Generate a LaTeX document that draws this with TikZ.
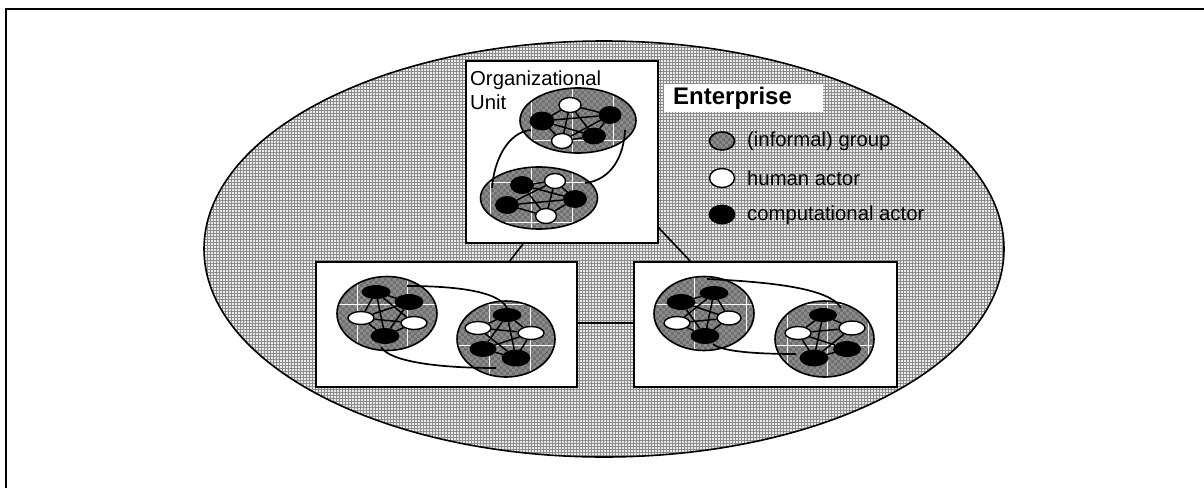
\documentclass[tikz,border=0pt]{standalone}
\usepackage{fontspec}
\setmainfont{Liberation Sans}
\usetikzlibrary{shapes.geometric}
\tikzset{
  x=1pt,y=-1pt,
  grp/.style={draw=black,line width=1.6pt},
  hum/.style={ellipse,draw=black,fill=white,line width=1.4pt,inner sep=0pt},
  comp/.style={ellipse,draw=black,fill=black,line width=0.8pt,inner sep=0pt},
  unitbox/.style={draw=black,fill=white,line width=2pt,inner sep=0pt},
  link/.style={draw=black,line width=1.5pt},
  wire/.style={draw=black,line width=1.7pt},
  gridw/.style={draw=white,line width=0.9pt},
  lab/.style={font=\fontsize{20.3pt}{24pt}\selectfont,anchor=west,inner sep=0pt,align=left},
}
% group background: centre x,y radii rx ry
\newcommand{\grpbg}[4]{%
  \begin{scope}
    \clip (#1,#2) ellipse [x radius=#3,y radius=#4];
    \fill[black!56] (#1-#3,#2-#4) rectangle (#1+#3,#2+#4);
    \foreach \ii in {-10,...,10}{
      \foreach \jj in {-7,...,7}{
        \fill[black!46] (#1+\ii*6,#2+\jj*6) rectangle ++(3,3);
        \fill[black!46] (#1+\ii*6+3,#2+\jj*6+3) rectangle ++(3,3);
      }
    }
  \end{scope}}
\newcommand{\grpline}[4]{\draw[grp] (#1,#2) ellipse [x radius=#3,y radius=#4];}
\begin{document}
\begin{tikzpicture}
\useasboundingbox (0,0) rectangle (1204,488);
\fill[white] (0,0) rectangle (1204,488);
\coordinate (fl) at (6,488);
\coordinate (ftl) at (6,9);
\coordinate (ftr) at (1204,9);
\draw[line width=2pt] (fl) -- (ftl) -- (ftr);
% enterprise ellipse with screen texture
\begin{scope}
  \clip (604,249) ellipse [x radius=400,y radius=208];
  \fill[black!8] (200,40) rectangle (1008,460);
  \foreach \xx in {204,207,...,1005}{\draw[black!45,line width=1pt] (\xx,40) -- (\xx,460);}
  \foreach \yy in {41,44,...,458}{\draw[black!45,line width=1pt] (200,\yy) -- (1008,\yy);}
\end{scope}
\node[draw=black,line width=1.6pt,ellipse,minimum width=800pt,minimum height=416pt,inner sep=0pt] (ent) at (604,249) {};
% connectors between units
\coordinate (oubl) at (523,244);
\coordinate (oubr) at (658,227);
\coordinate (lt) at (509,262);
\coordinate (rt) at (691,262);
\coordinate (lr) at (577,323);
\coordinate (rl) at (634,323);
\draw[line width=1.6pt] (oubl) -- (lt);
\draw[line width=1.6pt] (oubr) -- (rt);
\draw[line width=1.6pt] (lr) -- (rl);
% unit boxes
\node[unitbox,minimum width=192pt,minimum height=182pt] (ou) at (562,152) {};
\node[unitbox,minimum width=261pt,minimum height=125pt] (ul) at (446.5,324.5) {};
\node[unitbox,minimum width=263pt,minimum height=125pt] (ur) at (765.5,324.5) {};
% enterprise label
\node[fill=white,minimum width=159pt,minimum height=28pt,inner sep=0pt] (entbg) at (743.5,98) {};
\node[lab,font=\fontsize{24pt}{26pt}\selectfont\bfseries] (entl) at (673,98) {Enterprise};
\node[lab] (oul) at (470,90) {Organizational\\Unit};
% legend
\node[lab] (lg) at (747,141.5) {(informal) group};
\node[lab] (lh) at (747,178) {human actor};
\node[lab] (lc) at (747,215) {computational actor};
\grpbg{722}{141}{12.5}{9}
\grpline{722}{141}{12.5}{9}
\node[hum,minimum width=25pt,minimum height=19pt] (k2) at (722,178) {};
\node[comp,minimum width=26pt,minimum height=19pt] (k3) at (722,214.5) {};
% ---------- group A (top of OU)
\grpbg{578}{120.5}{58}{32.5}
\begin{scope}
\clip (578,120.5) ellipse [x radius=58,y radius=32.5];
\foreach \xx in {531,572,613}{\draw[gridw] (\xx,88) -- (\xx,153);}
\draw[gridw] (520,140) -- (636,140);
\end{scope}
\grpline{578}{120.5}{58}{32.5}
\node[comp,minimum width=24pt,minimum height=18pt] (a1) at (542,121) {};
\node[hum,minimum width=22pt,minimum height=15pt] (a2) at (570,105) {};
\node[comp,minimum width=22pt,minimum height=17pt] (a3) at (610,115) {};
\node[comp,minimum width=23pt,minimum height=16pt] (a4) at (594,136) {};
\node[hum,minimum width=21pt,minimum height=15pt] (a5) at (562,141) {};
\foreach \p/\q in {a1/a2,a1/a3,a1/a4,a1/a5,a2/a3,a2/a4,a2/a5,a3/a4,a3/a5,a4/a5}{\draw[link] (\p)--(\q);}
% ---------- group B
\grpbg{539}{198}{58.5}{31}
\begin{scope}
\clip (539,198) ellipse [x radius=58.5,y radius=31];
\foreach \xx in {490,531,572}{\draw[gridw] (\xx,167) -- (\xx,229);}
\draw[gridw] (480,182) -- (598,182);
\draw[gridw] (480,222) -- (598,222);
\end{scope}
\grpline{539}{198}{58.5}{31}
\node[comp,minimum width=23pt,minimum height=17pt] (b1) at (522,185) {};
\node[hum,minimum width=21pt,minimum height=15pt] (b2) at (555,181) {};
\node[comp,minimum width=23pt,minimum height=17pt] (b3) at (575,199) {};
\node[comp,minimum width=23pt,minimum height=17pt] (b4) at (507,205) {};
\node[hum,minimum width=21pt,minimum height=15pt] (b5) at (546,216) {};
\foreach \p/\q in {b1/b2,b1/b3,b1/b5,b2/b3,b2/b4,b2/b5,b3/b4,b3/b5,b4/b5}{\draw[link] (\p)--(\q);}
% inter-group wires
\coordinate (wa1) at (531,130);
\coordinate (wb1) at (492,188);
\coordinate (wa2) at (625,130);
\coordinate (wb2) at (585,183);
\draw[wire] (wa1) .. controls (508,132) and (494,160) .. (wb1);
\draw[wire] (wa2) .. controls (624,155) and (612,180) .. (wb2);
% ---------- group C (left unit, left)
\grpbg{387}{313.5}{50}{37}
\begin{scope}
\clip (387,313.5) ellipse [x radius=50,y radius=37];
\foreach \xx in {357,407}{\draw[gridw] (\xx,277) -- (\xx,350);}
\draw[gridw] (337,304) -- (437,304);
\end{scope}
\grpline{387}{313.5}{50}{37}
\node[comp,minimum width=28pt,minimum height=13pt] (c1) at (376,292) {};
\node[comp,minimum width=28pt,minimum height=15pt] (c2) at (409,302) {};
\node[hum,minimum width=26pt,minimum height=13pt] (c3) at (361,318) {};
\node[hum,minimum width=26pt,minimum height=13pt] (c4) at (414,323) {};
\node[comp,minimum width=28pt,minimum height=15pt] (c5) at (385,336) {};
\foreach \p/\q in {c1/c2,c1/c3,c1/c4,c1/c5,c2/c3,c2/c5,c3/c4,c3/c5,c4/c5}{\draw[link] (\p)--(\q);}
% ---------- group D (left unit, right)
\grpbg{506}{339}{49}{38}
\begin{scope}
\clip (506,339) ellipse [x radius=49,y radius=38];
\foreach \xx in {489,530}{\draw[gridw] (\xx,301) -- (\xx,377);}
\draw[gridw] (457,345) -- (555,345);
\draw[gridw] (457,304) -- (555,304);
\end{scope}
\grpline{506}{339}{49}{38}
\node[comp,minimum width=28pt,minimum height=13pt] (d1) at (507,315) {};
\node[hum,minimum width=26pt,minimum height=13pt] (d2) at (478,328) {};
\node[hum,minimum width=26pt,minimum height=13pt] (d3) at (531,333) {};
\node[comp,minimum width=26pt,minimum height=15pt] (d4) at (483,349) {};
\node[comp,minimum width=28pt,minimum height=16pt] (d5) at (516,358) {};
\foreach \p/\q in {d1/d2,d1/d3,d1/d4,d1/d5,d2/d3,d2/d5,d3/d4,d3/d5,d4/d5}{\draw[link] (\p)--(\q);}
% wires left unit
\coordinate (wc1) at (407,286);
\coordinate (wd1) at (507,308);
\coordinate (wc2) at (381,347);
\coordinate (wd2) at (496,368);
\draw[wire] (wc1) .. controls (450,286) and (498,290) .. (wd1);
\draw[wire] (wc2) .. controls (390,362) and (440,368) .. (wd2);
% ---------- group E (right unit, left)
\grpbg{704}{313.5}{50}{37}
\begin{scope}
\clip (704,313.5) ellipse [x radius=50,y radius=37];
\foreach \xx in {694,746}{\draw[gridw] (\xx,277) -- (\xx,350);}
\draw[gridw] (654,304) -- (754,304);
\end{scope}
\grpline{704}{313.5}{50}{37}
\node[comp,minimum width=28pt,minimum height=15pt] (e1) at (681,302) {};
\node[comp,minimum width=28pt,minimum height=13pt] (e2) at (714,293) {};
\node[hum,minimum width=26pt,minimum height=13pt] (e3) at (677,323) {};
\node[hum,minimum width=24pt,minimum height=14pt] (e4) at (729,318) {};
\node[comp,minimum width=28pt,minimum height=15pt] (e5) at (705,336) {};
\foreach \p/\q in {e1/e2,e1/e4,e1/e5,e2/e3,e2/e4,e2/e5,e3/e4,e3/e5,e4/e5}{\draw[link] (\p)--(\q);}
% ---------- group F (right unit, right)
\grpbg{824.5}{339}{49.5}{38}
\begin{scope}
\clip (824.5,339) ellipse [x radius=49.5,y radius=38];
\foreach \xx in {787,827,868}{\draw[gridw] (\xx,301) -- (\xx,377);}
\draw[gridw] (775,345) -- (874,345);
\draw[gridw] (775,304) -- (874,304);
\end{scope}
\grpline{824.5}{339}{49.5}{38}
\node[comp,minimum width=27pt,minimum height=13pt] (f1) at (823,315) {};
\node[hum,minimum width=26pt,minimum height=13pt] (f2) at (798,333) {};
\node[hum,minimum width=26pt,minimum height=14pt] (f3) at (852,328) {};
\node[comp,minimum width=27pt,minimum height=15pt] (f4) at (847,349) {};
\node[comp,minimum width=28pt,minimum height=16pt] (f5) at (814,358) {};
\foreach \p/\q in {f1/f2,f1/f3,f1/f5,f2/f3,f2/f4,f2/f5,f3/f5,f4/f5}{\draw[link] (\p)--(\q);}
% wires right unit
\coordinate (we1) at (707,279);
\coordinate (wf1) at (841,308);
\coordinate (we2) at (713,344);
\coordinate (wf2) at (796,354);
\draw[wire] (we1) .. controls (770,282) and (830,288) .. (wf1);
\draw[wire] (we2) .. controls (722,352) and (760,354) .. (wf2);
\end{tikzpicture}
\end{document}
